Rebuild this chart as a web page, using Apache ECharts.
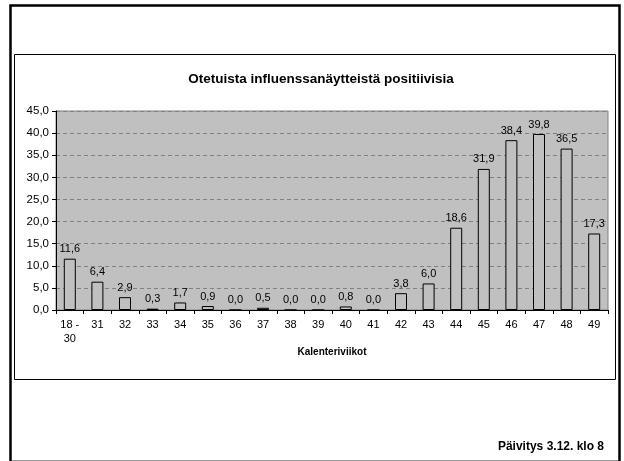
<!DOCTYPE html>
<html>
<head>
<meta charset="utf-8">
<script src="https://cdn.jsdelivr.net/npm/echarts@6/dist/echarts.min.js"></script>
<style>
  html, body { margin: 0; padding: 0; background: #fff; }
  #chart { width: 624px; height: 461px; }
</style>
</head>
<body>
<div id="chart"></div>
<script>
// Chart data
var weeks = ['18 -\n30', '31', '32', '33', '34', '35', '36', '37', '38', '39',
  '40', '41', '42', '43', '44', '45', '46', '47', '48', '49'];
var positives = [11.6, 6.4, 2.9, 0.3, 1.7, 0.9, 0.0, 0.5, 0.0, 0.0,
  0.8, 0.0, 3.8, 6.0, 18.6, 31.9, 38.4, 39.8, 36.5, 17.3];

function fi(v) {
  return Number(v).toFixed(1).replace('.', ',');
}

document.addEventListener('DOMContentLoaded', function() {
  var chart = echarts.init(document.getElementById('chart'), null, {renderer: 'canvas'});
  var font = 'Arial, "Liberation Sans", sans-serif';

  var option = {
    animation: false,
    backgroundColor: '#fff',
    textStyle: {fontFamily: font},
    title: {
      text: 'Otetuista influenssanäytteistä positiivisia',
      left: 316,
      top: 67,
      textAlign: 'center',
      textStyle: {fontSize: 13.5, fontWeight: 'bold', color: '#000', fontFamily: font}
    },
    graphic: [
      // outer frame
      {type: 'rect', shape: {x: 10.5, y: 5.5, width: 609, height: 470},
        style: {fill: null, stroke: '#000', lineWidth: 2.5}},
      {type: 'line', shape: {x1: 12, y1: 460.5, x2: 618, y2: 460.5},
        style: {stroke: '#999', lineWidth: 1}},
      // inner chart box
      {type: 'rect', shape: {x: 14.5, y: 54.5, width: 601, height: 325},
        style: {fill: null, stroke: '#000', lineWidth: 1}},
      {type: 'text', right: 20, top: 441,
        style: {text: 'Päivitys 3.12. klo 8', font: 'bold 12px ' + font, fill: '#000'}}
    ],
    grid: {
      left: 56, right: 16, top: 111, bottom: 151,
      show: true, backgroundColor: '#c0c0c0', borderColor: '#808080', borderWidth: 1
    },
    xAxis: {
      type: 'category',
      data: weeks,
      name: 'Kalenteriviikot',
      nameLocation: 'middle',
      nameGap: 32,
      nameTextStyle: {fontSize: 10, fontWeight: 'bold', color: '#000', fontFamily: font},
      axisLine: {lineStyle: {color: '#000', width: 1}},
      axisTick: {show: true, length: 4, lineStyle: {color: '#000'}},
      axisLabel: {fontSize: 11, color: '#000', margin: 8, lineHeight: 14, interval: 0}
    },
    yAxis: {
      type: 'value',
      min: 0,
      max: 45,
      interval: 5,
      axisLine: {show: true, lineStyle: {color: '#000', width: 1}},
      axisTick: {show: true, length: 4, lineStyle: {color: '#000'}},
      axisLabel: {fontSize: 11.5, color: '#000', margin: 7, formatter: fi},
      splitLine: {show: true, lineStyle: {color: '#808080', type: [4, 3], width: 1}}
    },
    series: [{
      type: 'bar',
      data: positives,
      barWidth: 12,
      itemStyle: {color: '#c0c0c0', borderColor: '#000', borderWidth: 1},
      label: {
        show: true,
        position: 'top',
        distance: 4,
        fontSize: 11,
        color: '#000',
        formatter: function(p) { return fi(p.value); }
      }
    }]
  };

  chart.setOption(option);
});
</script>
</body>
</html>
